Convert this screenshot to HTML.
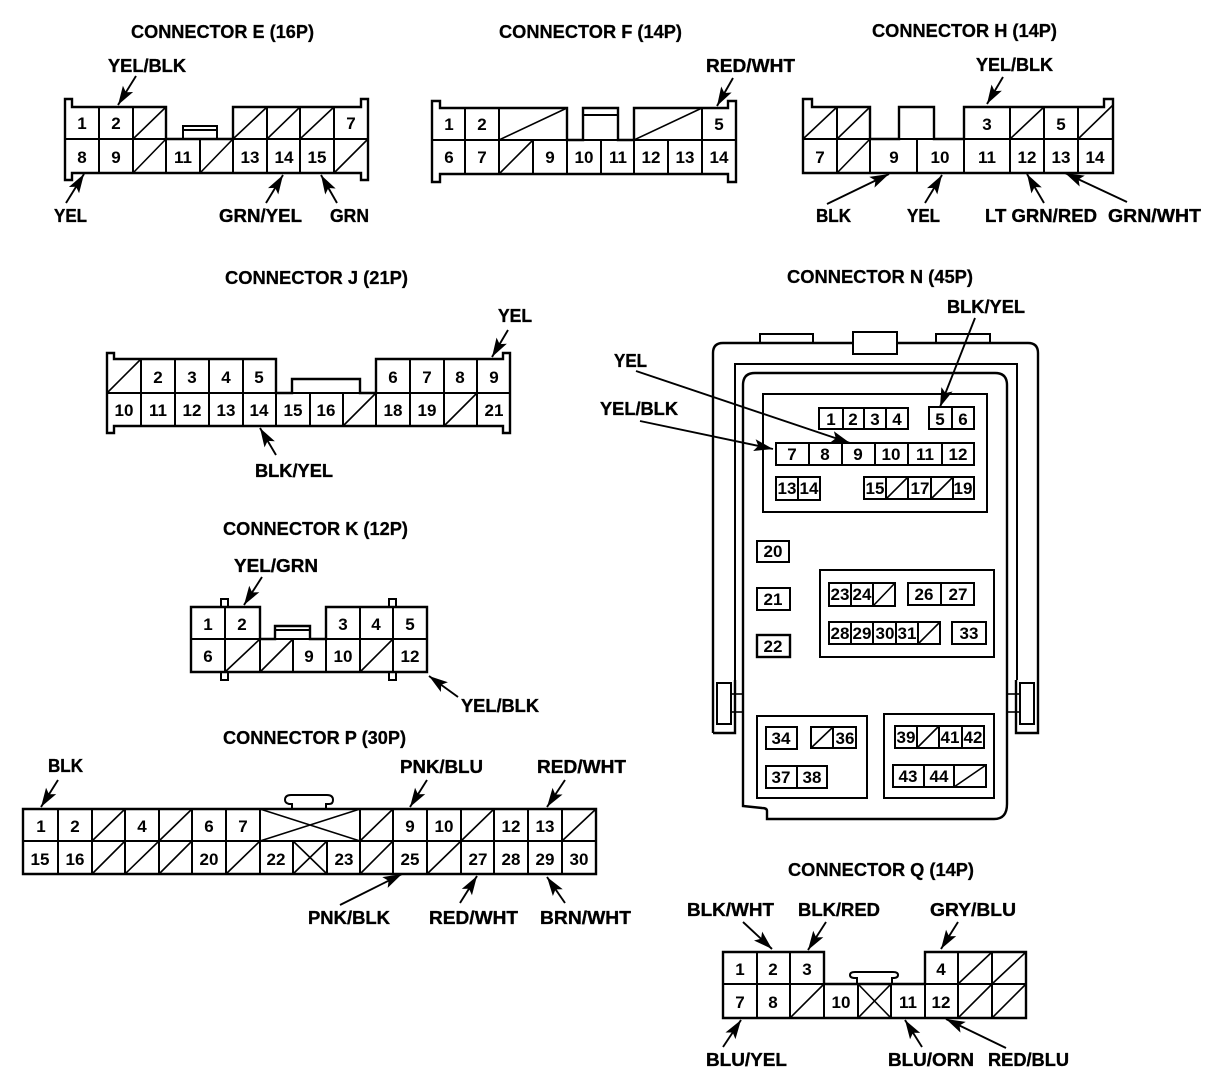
<!DOCTYPE html>
<html>
<head>
<meta charset="utf-8">
<title>Connector diagrams</title>
<style>
html,body{margin:0;padding:0;background:#fff}
svg{display:block}
text{font-family:"Liberation Sans",sans-serif;font-weight:bold;fill:#000}
.d{font-size:17px;text-anchor:middle}
.l{font-size:18px;stroke:#000;stroke-width:.35}
.t{font-size:18px;stroke:#000;stroke-width:.25}
.o{fill:none;stroke:#000;stroke-width:2.4;stroke-linejoin:miter}
.g{fill:none;stroke:#000;stroke-width:2}
.s{fill:none;stroke:#000;stroke-width:1.6}
.a{fill:none;stroke:#000;stroke-width:1.9;marker-end:url(#h)}
</style>
</head>
<body>
<svg width="1216" height="1076" viewBox="0 0 1216 1076" xmlns="http://www.w3.org/2000/svg">
<defs>
<marker id="h" markerUnits="userSpaceOnUse" markerWidth="24" markerHeight="14" refX="22" refY="7" orient="auto">
<path d="M22 7L3 1L7 7L3 13Z" fill="#000"/>
</marker>
</defs>
<rect width="1216" height="1076" fill="#fff"/>

<!-- Titles -->
<text class="t" x="131" y="38" textLength="183" lengthAdjust="spacingAndGlyphs">CONNECTOR E (16P)</text>
<text class="t" x="499" y="38" textLength="183" lengthAdjust="spacingAndGlyphs">CONNECTOR F (14P)</text>
<text class="t" x="872" y="37" textLength="185" lengthAdjust="spacingAndGlyphs">CONNECTOR H (14P)</text>
<text class="t" x="225" y="284" textLength="183" lengthAdjust="spacingAndGlyphs">CONNECTOR J (21P)</text>
<text class="t" x="787" y="283" textLength="186" lengthAdjust="spacingAndGlyphs">CONNECTOR N (45P)</text>
<text class="t" x="223" y="535" textLength="185" lengthAdjust="spacingAndGlyphs">CONNECTOR K (12P)</text>
<text class="t" x="223" y="744" textLength="183" lengthAdjust="spacingAndGlyphs">CONNECTOR P (30P)</text>
<text class="t" x="788" y="876" textLength="186" lengthAdjust="spacingAndGlyphs">CONNECTOR Q (14P)</text>

<!-- Connector E -->
<path class="o" d="M65 99H72V107H166V139H233V107H361V99H368V180H361V173H72V180H65Z"/>
<path class="g" d="M65 139H368M99 107V173M133 107V173M166 139V173M200 139V173M233 139V173M267 107V173M300 107V173M334 107V173M183 139V126H217V139M183 130H217"/>
<path class="s" d="M133 139L166 107M233 139L267 107M267 139L300 107M300 139L334 107M133 173L166 139M200 173L233 139M334 173L368 139"/>
<text class="d" x="82" y="129">1</text><text class="d" x="116" y="129">2</text><text class="d" x="351" y="129">7</text>
<text class="d" x="82" y="163">8</text><text class="d" x="116" y="163">9</text><text class="d" x="183" y="163">11</text><text class="d" x="250" y="163">13</text><text class="d" x="284" y="163">14</text><text class="d" x="317" y="163">15</text>
<text class="l" x="108" y="72" textLength="78" lengthAdjust="spacingAndGlyphs">YEL/BLK</text>
<text class="l" x="54" y="222" textLength="33" lengthAdjust="spacingAndGlyphs">YEL</text>
<text class="l" x="219" y="222" textLength="83" lengthAdjust="spacingAndGlyphs">GRN/YEL</text>
<text class="l" x="330" y="222" textLength="39" lengthAdjust="spacingAndGlyphs">GRN</text>
<path class="a" d="M136 76L118 105"/><path class="a" d="M66 203L84 174"/><path class="a" d="M266 203L283 175"/><path class="a" d="M337 203L321 175"/>

<!-- Connector F -->
<path class="o" d="M432 101H440V108H567V140H583V108H618V140H634V108H728V101H736V182H728V174H440V182H432Z"/>
<path class="g" d="M432 140H736M465 108V174M499 108V174M702 108V174M533 140V174M567 140V174M601 140V174M634 140V174M668 140V174M583 115H618"/>
<path class="s" d="M499 140L567 108M634 140L702 108M499 174L533 140"/>
<text class="d" x="449" y="130">1</text><text class="d" x="482" y="130">2</text><text class="d" x="719" y="130">5</text>
<text class="d" x="449" y="163">6</text><text class="d" x="482" y="163">7</text><text class="d" x="550" y="163">9</text><text class="d" x="584" y="163">10</text><text class="d" x="618" y="163">11</text><text class="d" x="651" y="163">12</text><text class="d" x="685" y="163">13</text><text class="d" x="719" y="163">14</text>
<text class="l" x="706" y="72" textLength="89" lengthAdjust="spacingAndGlyphs">RED/WHT</text>
<path class="a" d="M733 78L717 106"/>

<!-- Connector H -->
<path class="o" d="M803 99H812V107H870V139H899V107H934V139H964V107H1104V99H1113V173H803Z"/>
<path class="g" d="M803 139H1113M837 107V173M870 139V173M917 139V173M964 139V173M1010 107V173M1044 107V173M1078 107V173"/>
<path class="s" d="M803 139L837 107M837 139L870 107M1010 139L1044 107M1078 139L1113 105M837 173L870 139"/>
<text class="d" x="987" y="130">3</text><text class="d" x="1061" y="130">5</text>
<text class="d" x="820" y="163">7</text><text class="d" x="894" y="163">9</text><text class="d" x="940" y="163">10</text><text class="d" x="987" y="163">11</text><text class="d" x="1027" y="163">12</text><text class="d" x="1061" y="163">13</text><text class="d" x="1095" y="163">14</text>
<text class="l" x="976" y="71" textLength="77" lengthAdjust="spacingAndGlyphs">YEL/BLK</text>
<text class="l" x="816" y="222" textLength="35" lengthAdjust="spacingAndGlyphs">BLK</text>
<text class="l" x="907" y="222" textLength="33" lengthAdjust="spacingAndGlyphs">YEL</text>
<text class="l" x="985" y="222" textLength="112" lengthAdjust="spacingAndGlyphs">LT GRN/RED</text>
<text class="l" x="1108" y="222" textLength="93" lengthAdjust="spacingAndGlyphs">GRN/WHT</text>
<path class="a" d="M1003 77L987 104"/><path class="a" d="M827 204L889 174"/><path class="a" d="M925 203L942 175"/><path class="a" d="M1044 203L1027 174"/><path class="a" d="M1127 202L1065 173"/>

<!-- Connector J -->
<path class="o" d="M107 353H114V359H276V393H292V379H360V393H376V359H503V353H510V433H503V426H114V433H107Z"/>
<path class="g" d="M107 393H510M141 359V426M175 359V426M209 359V426M243 359V426M276 393V426M310 393V426M343 393V426M376 393V426M410 359V426M444 359V426M477 359V426"/>
<path class="s" d="M107 393L141 359M343 426L376 393M444 426L477 393"/>
<text class="d" x="158" y="383">2</text><text class="d" x="192" y="383">3</text><text class="d" x="226" y="383">4</text><text class="d" x="259" y="383">5</text><text class="d" x="393" y="383">6</text><text class="d" x="427" y="383">7</text><text class="d" x="460" y="383">8</text><text class="d" x="494" y="383">9</text>
<text class="d" x="124" y="416">10</text><text class="d" x="158" y="416">11</text><text class="d" x="192" y="416">12</text><text class="d" x="226" y="416">13</text><text class="d" x="259" y="416">14</text><text class="d" x="293" y="416">15</text><text class="d" x="326" y="416">16</text><text class="d" x="393" y="416">18</text><text class="d" x="427" y="416">19</text><text class="d" x="494" y="416">21</text>
<text class="l" x="498" y="322" textLength="34" lengthAdjust="spacingAndGlyphs">YEL</text>
<text class="l" x="255" y="477" textLength="78" lengthAdjust="spacingAndGlyphs">BLK/YEL</text>
<path class="a" d="M508 330L492 357"/><path class="a" d="M276 455L260 428"/>

<!-- Connector K -->
<path class="o" d="M191 607H260V639H275V626H310V639H326V607H427V672H191Z"/>
<path class="g" d="M191 639H427M225 607V672M260 639V672M293 639V672M326 639V672M360 607V672M393 607V672M275 630H310"/>
<path class="g" d="M221 607V599H228V607M221 672V680H228V672M389 607V599H396V607M389 672V680H396V672"/>
<path class="s" d="M225 672L260 639M260 672L293 639M360 672L393 639"/>
<text class="d" x="208" y="630">1</text><text class="d" x="242" y="630">2</text><text class="d" x="343" y="630">3</text><text class="d" x="376" y="630">4</text><text class="d" x="410" y="630">5</text>
<text class="d" x="208" y="662">6</text><text class="d" x="309" y="662">9</text><text class="d" x="343" y="662">10</text><text class="d" x="410" y="662">12</text>
<text class="l" x="234" y="572" textLength="84" lengthAdjust="spacingAndGlyphs">YEL/GRN</text>
<text class="l" x="461" y="712" textLength="78" lengthAdjust="spacingAndGlyphs">YEL/BLK</text>
<path class="a" d="M262 577L244 605"/><path class="a" d="M458 697L429 676"/>

<!-- Connector P -->
<path class="o" d="M23 809H596V874H23Z"/>
<path class="g" d="M23 841H596M58 809V874M92 809V874M125 809V874M159 809V874M192 809V874M226 809V874M260 809V874M293 841V874M327 841V874M360 809V874M393 809V874M427 809V874M461 809V874M494 809V874M528 809V874M562 809V874"/>
<path class="g" d="M292 809V804H289Q285 803 285 800Q285 795 291 795H327Q333 795 333 800Q333 804 329 804H326V809"/>
<path class="s" d="M92 841L125 809M159 841L192 809M360 841L393 809M461 841L494 809M562 841L596 809M260 841L360 809M260 809L360 841M92 874L125 841M125 874L159 841M159 874L192 841M226 874L260 841M360 874L393 841M427 874L461 841M293 841L327 874M293 874L327 841"/>
<text class="d" x="41" y="832">1</text><text class="d" x="75" y="832">2</text><text class="d" x="142" y="832">4</text><text class="d" x="209" y="832">6</text><text class="d" x="243" y="832">7</text><text class="d" x="410" y="832">9</text><text class="d" x="444" y="832">10</text><text class="d" x="511" y="832">12</text><text class="d" x="545" y="832">13</text>
<text class="d" x="40" y="865">15</text><text class="d" x="75" y="865">16</text><text class="d" x="209" y="865">20</text><text class="d" x="276" y="865">22</text><text class="d" x="344" y="865">23</text><text class="d" x="410" y="865">25</text><text class="d" x="478" y="865">27</text><text class="d" x="511" y="865">28</text><text class="d" x="545" y="865">29</text><text class="d" x="579" y="865">30</text>
<text class="l" x="48" y="772" textLength="35" lengthAdjust="spacingAndGlyphs">BLK</text>
<text class="l" x="400" y="773" textLength="83" lengthAdjust="spacingAndGlyphs">PNK/BLU</text>
<text class="l" x="537" y="773" textLength="89" lengthAdjust="spacingAndGlyphs">RED/WHT</text>
<text class="l" x="308" y="924" textLength="82" lengthAdjust="spacingAndGlyphs">PNK/BLK</text>
<text class="l" x="429" y="924" textLength="89" lengthAdjust="spacingAndGlyphs">RED/WHT</text>
<text class="l" x="540" y="924" textLength="91" lengthAdjust="spacingAndGlyphs">BRN/WHT</text>
<path class="a" d="M58 780L41 807"/><path class="a" d="M427 780L410 807"/><path class="a" d="M565 780L547 807"/><path class="a" d="M340 905L402 874"/><path class="a" d="M460 903L477 876"/><path class="a" d="M565 903L547 877"/>

<!-- Connector Q -->
<path class="o" d="M723 952H824V984H925V952H1026V1018H723Z"/>
<path class="g" d="M723 984H1026M757 952V1018M790 952V1018M824 984V1018M858 984V1018M891 984V1018M925 984V1018M958 952V1018M992 952V1018"/>
<path class="g" d="M857 984V978H855Q850 978 850 975Q850 972 855 972H893Q898 972 898 975Q898 978 893 978H892V984"/>
<path class="s" d="M958 984L992 952M992 984L1026 952M790 1018L824 984M958 1018L992 984M992 1018L1026 984M858 984L891 1018M858 1018L891 984"/>
<text class="d" x="740" y="975">1</text><text class="d" x="773" y="975">2</text><text class="d" x="807" y="975">3</text><text class="d" x="941" y="975">4</text>
<text class="d" x="740" y="1008">7</text><text class="d" x="773" y="1008">8</text><text class="d" x="841" y="1008">10</text><text class="d" x="908" y="1008">11</text><text class="d" x="941" y="1008">12</text>
<text class="l" x="687" y="916" textLength="87" lengthAdjust="spacingAndGlyphs">BLK/WHT</text>
<text class="l" x="798" y="916" textLength="82" lengthAdjust="spacingAndGlyphs">BLK/RED</text>
<text class="l" x="930" y="916" textLength="86" lengthAdjust="spacingAndGlyphs">GRY/BLU</text>
<text class="l" x="706" y="1066" textLength="81" lengthAdjust="spacingAndGlyphs">BLU/YEL</text>
<text class="l" x="888" y="1066" textLength="86" lengthAdjust="spacingAndGlyphs">BLU/ORN</text>
<text class="l" x="988" y="1066" textLength="81" lengthAdjust="spacingAndGlyphs">RED/BLU</text>
<path class="a" d="M743 922L772 949"/><path class="a" d="M826 922L808 950"/><path class="a" d="M958 922L941 949"/><path class="a" d="M723 1047L741 1020"/><path class="a" d="M922 1047L905 1020"/><path class="a" d="M1006 1048L946 1019"/>

<!-- Connector N body -->
<path class="o" d="M713 733V353Q713 343 723 343H1028Q1038 343 1038 353V733H1016V680M713 733H735V680"/>
<path class="g" d="M735 680V364H1017V680"/>
<path class="o" d="M743 806V385Q743 373 755 373H995Q1007 373 1007 385V804Q1007 819 994 819H767V811Q767 808 762 808Z"/>
<path class="g" d="M760 343V334H813V343M936 343V334H990V343"/>
<rect class="g" x="853" y="332" width="44" height="22" style="fill:#fff"/>
<rect class="g" x="717" y="683" width="14" height="41"/><rect class="s" x="731" y="694" width="12" height="18"/>
<rect class="g" x="1020" y="683" width="14" height="41"/><rect class="s" x="1007" y="694" width="13" height="18"/>

<!-- top panel -->
<rect class="g" x="763" y="394" width="224" height="118"/>
<path class="g" d="M819 408H908V429H819ZM843 408V429M864 408V429M886 408V429"/>
<path class="g" d="M929 407H974V429H929ZM952 407V429"/>
<path class="g" d="M776 443H974V465H776ZM809 443V465M842 443V465M875 443V465M908 443V465M942 443V465"/>
<path class="g" d="M776 477H820V500H776ZM798 477V500"/>
<path class="g" d="M864 477H974V499H864ZM886 477V499M908 477V499M931 477V499M953 477V499"/>
<path class="s" d="M886 499L908 477M931 499L953 477"/>
<text class="d" x="831" y="425">1</text><text class="d" x="853" y="425">2</text><text class="d" x="875" y="425">3</text><text class="d" x="897" y="425">4</text><text class="d" x="940" y="425">5</text><text class="d" x="963" y="425">6</text>
<text class="d" x="792" y="460">7</text><text class="d" x="825" y="460">8</text><text class="d" x="858" y="460">9</text><text class="d" x="891" y="460">10</text><text class="d" x="925" y="460">11</text><text class="d" x="958" y="460">12</text>
<text class="d" x="787" y="494">13</text><text class="d" x="809" y="494">14</text><text class="d" x="875" y="494">15</text><text class="d" x="920" y="494">17</text><text class="d" x="963" y="494">19</text>

<!-- left singles -->
<rect class="g" x="757" y="541" width="32" height="21"/><rect class="g" x="757" y="588" width="33" height="22"/><rect class="o" x="757" y="635" width="33" height="22"/>
<text class="d" x="773" y="557">20</text><text class="d" x="773" y="605">21</text><text class="d" x="773" y="652">22</text>

<!-- panel 2 -->
<rect class="g" x="820" y="570" width="174" height="87"/>
<path class="g" d="M829 583H895V606H829ZM851 583V606M873 583V606"/>
<path class="s" d="M873 606L895 583"/>
<path class="g" d="M908 583H974V605H908ZM941 583V605"/>
<path class="g" d="M829 622H940V644H829ZM851 622V644M873 622V644M896 622V644M918 622V644"/>
<path class="s" d="M918 644L940 622"/>
<rect class="g" x="952" y="622" width="34" height="22"/>
<text class="d" x="840" y="600">23</text><text class="d" x="862" y="600">24</text><text class="d" x="924" y="600">26</text><text class="d" x="958" y="600">27</text>
<text class="d" x="840" y="639">28</text><text class="d" x="862" y="639">29</text><text class="d" x="885" y="639">30</text><text class="d" x="907" y="639">31</text><text class="d" x="969" y="639">33</text>

<!-- panel 3 -->
<rect class="g" x="757" y="716" width="110" height="82"/>
<rect class="g" x="766" y="727" width="31" height="22"/>
<path class="g" d="M811 727H856V748H811ZM833 727V748"/>
<path class="s" d="M811 748L833 727"/>
<path class="g" d="M766 766H827V788H766ZM797 766V788"/>
<text class="d" x="781" y="744">34</text><text class="d" x="845" y="744">36</text><text class="d" x="781" y="783">37</text><text class="d" x="812" y="783">38</text>

<!-- panel 4 -->
<rect class="g" x="884" y="714" width="110" height="84"/>
<path class="g" d="M895 726H984V748H895ZM917 726V748M939 726V748M962 726V748"/>
<path class="s" d="M917 748L939 726"/>
<path class="g" d="M893 765H986V787H893ZM924 765V787M954 765V787"/>
<path class="s" d="M954 787L986 765"/>
<text class="d" x="906" y="743">39</text><text class="d" x="950" y="743">41</text><text class="d" x="973" y="743">42</text><text class="d" x="908" y="782">43</text><text class="d" x="939" y="782">44</text>

<text class="l" x="614" y="367" textLength="33" lengthAdjust="spacingAndGlyphs">YEL</text>
<text class="l" x="600" y="415" textLength="78" lengthAdjust="spacingAndGlyphs">YEL/BLK</text>
<text class="l" x="947" y="313" textLength="78" lengthAdjust="spacingAndGlyphs">BLK/YEL</text>
<path class="a" d="M636 371L850 443"/><path class="a" d="M640 421L773 449"/><path class="a" d="M975 318L940 407"/>
</svg>
</body>
</html>
